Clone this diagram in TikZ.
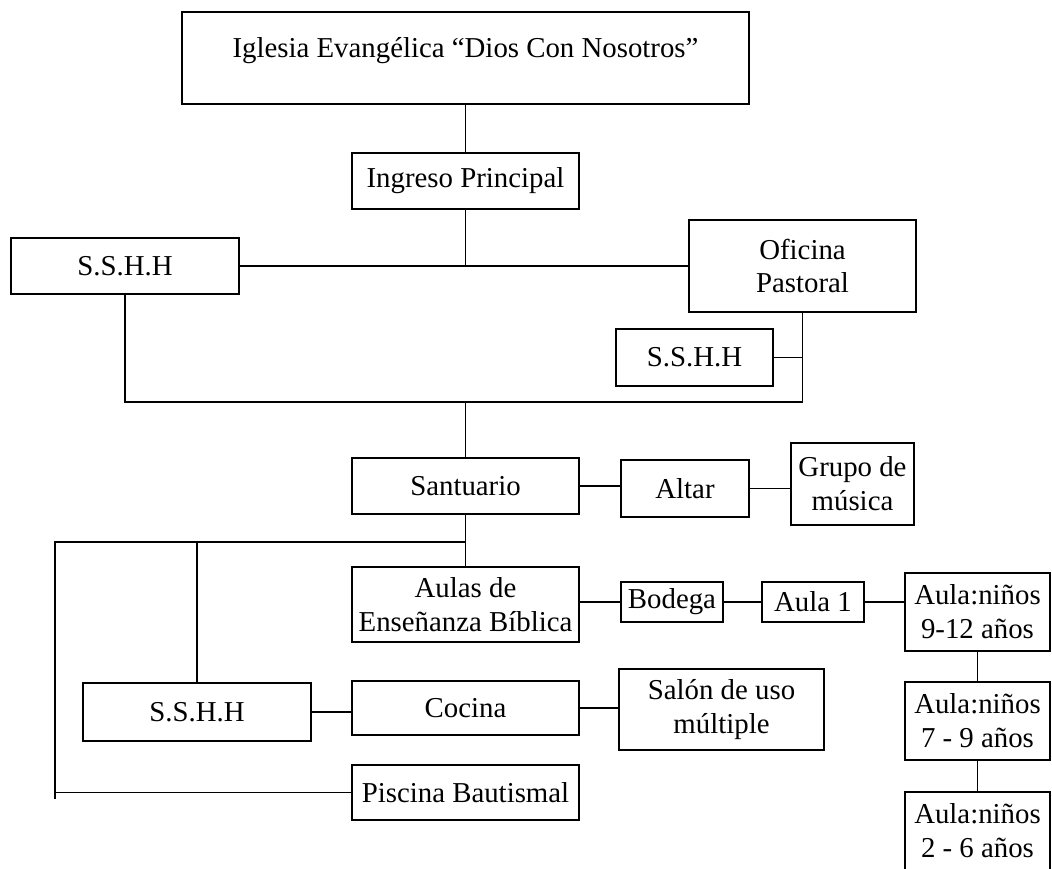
\documentclass[tikz,border=0pt]{standalone}
\usepackage{fontspec}
\setmainfont{Liberation Serif}
\tikzset{
  room/.style={draw,line width=1.5pt,inner sep=0pt,align=center,
    font=\fontsize{20.5}{24}\selectfont},
  link/.style={line width=1.3pt}
}
\begin{document}
\begin{tikzpicture}[x=0.025cm,y=-0.025cm]
\useasboundingbox (0,0) rectangle (1052,868);
% upper part
\node[room,minimum width=14.175cm,minimum height=2.3cm,text depth=0.55cm] (iglesia) at (465.5,58) {Iglesia Evangélica “Dios Con Nosotros”};
\node[room,minimum width=5.675cm,minimum height=1.4cm] (ingreso) at (465.5,181) {Ingreso Principal};
\node[room,minimum width=5.7cm,minimum height=1.4cm] (banoA) at (125,266) {S.S.H.H};
\node[room,minimum width=5.675cm,minimum height=2.3cm] (oficina) at (802.5,266) {Oficina\\Pastoral};
\node[room,minimum width=3.925cm,minimum height=1.425cm] (banoB) at (694.5,357.5) {S.S.H.H};
% middle part
\node[room,minimum width=5.675cm,minimum height=1.4cm] (santuario) at (465.5,486) {Santuario};
\node[room,minimum width=3.2cm,minimum height=1.425cm] (altar) at (685,488.5) {Altar};
\node[room,minimum width=3.075cm,minimum height=2.05cm] (musica) at (852.5,484) {Grupo de\\música};
\node[room,minimum width=5.675cm,minimum height=1.875cm] (aulas) at (465.5,604.5) {Aulas de\\Enseñanza Bíblica};
\node[room,minimum width=2.55cm,minimum height=1cm] (bodega) at (672,602) {Bodega};
\node[room,minimum width=2.55cm,minimum height=1cm] (aula1) at (813,602) {Aula 1};
\foreach \n/\y/\lab in {ninosA/612/{9-12 años},ninosB/721/{7 - 9 años},ninosC/831/{2 - 6 años}}{
  \node[room,minimum width=3.625cm,minimum height=1.95cm] (\n) at (977.5,\y) {Aula:niños\\\lab};
}
% lower part
\node[room,minimum width=5.7cm,minimum height=1.45cm] (banoC) at (197,712) {S.S.H.H};
\node[room,minimum width=5.675cm,minimum height=1.35cm] (cocina) at (465.5,708) {Cocina};
\node[room,minimum width=5.125cm,minimum height=2.025cm] (salon) at (721.5,709.5) {Salón de uso\\múltiple};
\node[room,minimum width=5.675cm,minimum height=1.375cm] (piscina) at (465.5,792.5) {Piscina Bautismal};
% junctions
\coordinate (cruce) at (465.5,402);
\coordinate (rama) at (465.5,542);
\coordinate (borde) at (55,542);
\coordinate (fin) at (55,799);
% connectors
\draw[link] (iglesia.south) -- (ingreso.north);
\draw[link] (ingreso.south) -- (ingreso.south |- banoA.east);
\draw[link] (banoA.east) -- (oficina.west);
\draw[link] (banoA.south) |- (cruce) -| (oficina.south);
\draw[link] (banoB.east) -- (banoB.east -| oficina.south);
\draw[link] (cruce) -- (santuario.north);
\draw[link] (santuario.east) -- (santuario.east -| altar.west);
\draw[link] (altar.east) -- (altar.east -| musica.west);
\draw[link] (santuario.south) -- (aulas.north);
\draw[link] (rama) -- (borde) -- (fin);
\draw[link] (banoC.north |- rama) -- (banoC.north);
\draw[link] (piscina.west -| borde) -- (piscina.west);
\draw[link] (banoC.east) -- (banoC.east -| cocina.west);
\draw[link] (cocina.east) -- (cocina.east -| salon.west);
\draw[link] (bodega.west -| aulas.east) -- (bodega.west);
\draw[link] (bodega.east) -- (aula1.west);
\draw[link] (aula1.east) -- (aula1.east -| ninosA.west);
\draw[link] (ninosA.south) -- (ninosB.north);
\draw[link] (ninosB.south) -- (ninosC.north);
\end{tikzpicture}
\end{document}
